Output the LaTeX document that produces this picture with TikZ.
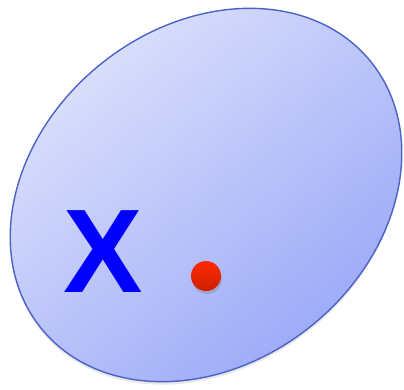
\documentclass[tikz,border=0pt]{standalone}
\usepackage{fontspec}
\setmainfont{Liberation Sans}
\usepackage{tikz}
\usetikzlibrary{shapes.geometric, shadows}

\definecolor{setlight}{HTML}{E0E4FC}
\definecolor{setdark}{HTML}{97A5F7}
\definecolor{setedge}{HTML}{4A64C6}
\definecolor{dotred}{HTML}{FF2A00}
\definecolor{dotdark}{HTML}{CC2000}

\begin{document}
\begin{tikzpicture}[
    x=1pt, y=1pt,
    blob/.style={
        ellipse,
        draw=setedge,
        line width=1.4pt,
        top color=setlight,
        bottom color=setdark,
        shading angle=40,
        minimum width=424pt,
        minimum height=336pt,
        inner sep=0pt,
        rotate=39,
        drop shadow={opacity=0.18, shadow xshift=0pt, shadow yshift=-3pt}
    },
    letter/.style={
        text=blue,
        font=\fontsize{119}{119}\selectfont\bfseries,
        inner sep=0pt
    },
    dot/.style={
        circle,
        minimum size=30pt,
        inner sep=0pt,
        top color=dotred,
        bottom color=dotdark,
        drop shadow={opacity=0.35, shadow xshift=1pt, shadow yshift=-3pt}
    }
]

\useasboundingbox (0,0) rectangle (404,389);

\node[blob] (set) at (206,194) {};

\node[letter] (x) at (103,137) {X};

\node[dot] (pt) at (206,113) {};

\end{tikzpicture}
\end{document}
